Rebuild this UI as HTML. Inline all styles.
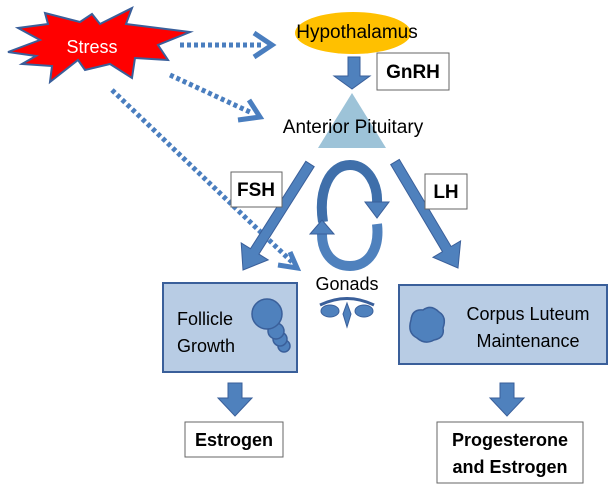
<!DOCTYPE html>
<html><head><meta charset="utf-8"><style>
html,body{margin:0;padding:0;background:#fff;}
svg{display:block;font-family:"Liberation Sans",sans-serif;}
</style></head><body>
<svg width="614" height="491" viewBox="0 0 614 491" xmlns="http://www.w3.org/2000/svg">
<!-- Stress starburst -->
<polygon points="8,52 40,40 18,28 48,24 45,13 80,22 92,14 100,24 132,8 126,24 190,32 158,45 168,60 135,58 132,78 110,64 85,70 78,60 50,82 52,66 22,64 36,56" fill="#ff0000" stroke="#3a5f9a" stroke-width="2"/>
<text x="92" y="53" font-size="18" fill="#fff" text-anchor="middle">Stress</text>
<!-- dotted arrows -->
<g stroke="#4a7ebf" stroke-width="5" stroke-dasharray="4,3" fill="none">
<line x1="180" y1="45" x2="262" y2="45"/>
<line x1="170" y1="75" x2="252" y2="113"/>
<line x1="112" y1="90" x2="292" y2="262"/>
</g>
<g stroke="#4a7ebf" stroke-width="5" fill="none">
<polyline points="254,33 272,45 254,57"/>
<polyline points="249,100 260,117 238,120"/>
<polyline points="290,252 297,268 278,265"/>
</g>
<!-- Hypothalamus -->
<ellipse cx="353" cy="33" rx="58" ry="21" fill="#ffc000"/>
<text x="357" y="38" font-size="19" text-anchor="middle" fill="#000">Hypothalamus</text>
<!-- GnRH arrow -->
<polygon points="348,57 360,57 360,76 370,76 352,89 334,76 348,76" fill="#4f81bd" stroke="#3a5f9a" stroke-width="1"/>
<rect x="377" y="53" width="72" height="37" fill="#fff" stroke="#666" stroke-width="1"/>
<text x="413" y="78" font-size="19" font-weight="bold" text-anchor="middle">GnRH</text>
<!-- triangle -->
<polygon points="352,93 386,148 318,148" fill="#9dc3d8"/>
<text x="353" y="133" font-size="19" text-anchor="middle">Anterior Pituitary</text>
<!-- FSH arrow -->
<polygon points="305.8,161.3 314.2,166.7 258.9,254.1 268.2,259.9 243,270 241.2,242.9 250.5,248.7" fill="#4f81bd" stroke="#3a5f9a" stroke-width="1"/>
<rect x="231" y="172" width="51" height="35" fill="#fff" stroke="#666" stroke-width="1"/>
<text x="256" y="196" font-size="19" font-weight="bold" text-anchor="middle">FSH</text>
<!-- LH arrow -->
<polygon points="390.7,164.6 399.3,159.4 451.1,246.5 460.6,240.9 458,268 433,257.3 442.5,251.7" fill="#4f81bd" stroke="#3a5f9a" stroke-width="1"/>
<rect x="425" y="174" width="42" height="35" fill="#fff" stroke="#666" stroke-width="1"/>
<text x="446" y="198" font-size="19" font-weight="bold" text-anchor="middle">LH</text>
<!-- cycle arrows -->
<path d="M323,222 C318,190 330,165 350,165 C368,165 378,185 377,203" fill="none" stroke="#3f6faa" stroke-width="10"/>
<polygon points="365,202 389,202 377,218" fill="#4f81bd" stroke="#3a5f9a"/>
<path d="M377,224 C380,250 368,266 350,266 C332,266 322,252 322,234" fill="none" stroke="#4f81bd" stroke-width="10"/>
<polygon points="310,234 334,234 322,220" fill="#4f81bd" stroke="#3a5f9a"/>
<!-- Gonads -->
<text x="347" y="290" font-size="18" text-anchor="middle">Gonads</text>
<g fill="#4f81bd" stroke="#3a5f9a">
<ellipse cx="330" cy="311" rx="9" ry="6"/>
<ellipse cx="364" cy="311" rx="9" ry="6"/>
<path d="M320,305 Q347,292 374,305" fill="none" stroke-width="3"/>
<polygon points="347,303 351,314 347,327 343,314"/>
</g>
<!-- Follicle box -->
<rect x="163" y="283" width="134" height="89" fill="#b8cce4" stroke="#3a5f9a" stroke-width="2"/>
<text x="177" y="325" font-size="18">Follicle</text>
<text x="177" y="352" font-size="18">Growth</text>
<g fill="#4f81bd" stroke="#3a5f9a" stroke-width="1.5">
<circle cx="284" cy="346" r="6"/>
<circle cx="280" cy="339" r="7"/>
<circle cx="276" cy="331" r="8"/>
<circle cx="267" cy="314" r="15"/>
</g>
<!-- Corpus box -->
<rect x="399" y="285" width="208" height="79" fill="#b8cce4" stroke="#3a5f9a" stroke-width="2"/>
<text x="528" y="320" font-size="18" text-anchor="middle">Corpus Luteum</text>
<text x="528" y="347" font-size="18" text-anchor="middle">Maintenance</text>
<path d="M411,320 Q412,309 423,310 Q431,304 439,312 Q447,317 443,328 Q445,338 434,340 Q425,345 417,338 Q407,333 411,320Z" fill="#4f81bd" stroke="#3a5f9a" stroke-width="1.5"/>
<!-- down arrows -->
<polygon points="228,383 242,383 242,398 252,398 235,416 218,398 228,398" fill="#4f81bd" stroke="#3a5f9a"/>
<polygon points="500,383 514,383 514,398 524,398 507,416 490,398 500,398" fill="#4f81bd" stroke="#3a5f9a"/>
<!-- output boxes -->
<rect x="185" y="422" width="98" height="35" fill="#fff" stroke="#666"/>
<text x="234" y="446" font-size="18" font-weight="bold" text-anchor="middle">Estrogen</text>
<rect x="437" y="422" width="146" height="61" fill="#fff" stroke="#666"/>
<text x="510" y="446" font-size="18" font-weight="bold" text-anchor="middle">Progesterone</text>
<text x="510" y="473" font-size="18" font-weight="bold" text-anchor="middle">and Estrogen</text>
</svg>
</body></html>
